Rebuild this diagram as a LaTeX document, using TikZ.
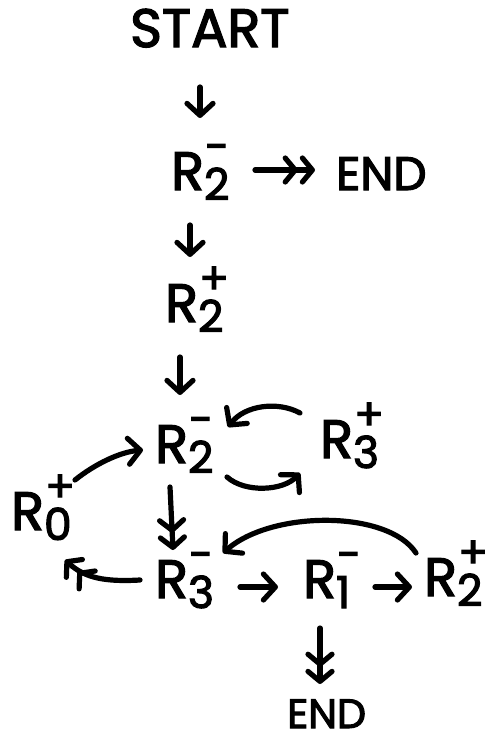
\documentclass[tikz,border=0pt]{standalone}
\usepackage{fontspec}
\setmainfont{Poppins}[FakeBold=2.6]
\usetikzlibrary{arrows.meta,calc}

% register symbol: R with subscript and superscript
\newcommand\subf{\fontsize{44}{46}\selectfont}
\newcommand\rsym[2]{R\rlap{\raisebox{-10pt}{\subf #1}}\kern1pt\raisebox{28pt}{\subf #2}}

\tikzset{
  lbl/.style={inner sep=0pt, anchor=base west, font=\fontsize{54}{56}\selectfont},
  arr/.style={line width=5.2pt, line cap=round,
    -{Straight Barb[length=12pt,width=26pt,round]}},
  darr/.style={line width=5.2pt, line cap=round,
    -{Straight Barb[length=10pt,width=24pt,round,sep=2pt]Straight Barb[length=10pt,width=24pt,round]}},
}

\begin{document}
\begin{tikzpicture}[x=1pt,y=-1pt]
\path[use as bounding box, fill=white] (0,0) rectangle (489,742);

% labels
\node[lbl] (start) at (130,47) {START};
\node[lbl, font=\fontsize{47}{49}\selectfont] (end1) at (336,190) {END};
\node[lbl] (r2a) at (171,190) {\rsym{2}{-}};
\node[lbl] (r2b) at (165,322) {\rsym{2}{+}};
\node[lbl] (r2c) at (155,463) {\rsym{2}{-}};
\node[lbl] (r3p) at (320,458) {\rsym{3}{+}};
\node[lbl] (r0) at (11,530) {\rsym{0}{+}};
\node[lbl] (r3m) at (155,598) {\rsym{3}{-}};
\node[lbl] (r1) at (303,598) {\rsym{1}{-}};
\node[lbl] (r2d) at (424,596) {\rsym{2}{+}};
\node[lbl, font=\fontsize{41}{43}\selectfont] (end2) at (287,728) {END};

% connectors
\draw[arr] ($(start.base west)+(70,40)$) -- ($(r2a.base west)+(29,-72)$);
\draw[darr] ($(r2a.base west)+(84,-20)$) -- ($(end1.base west)+(-21,-20)$);
\draw[arr] ($(r2a.base west)+(19,35)$) -- ($(r2b.base west)+(25,-65)$);
\draw[arr] ($(r2b.base west)+(15,35)$) -- ($(r2c.base west)+(25,-68)$);

\draw[arr] ($(r3p.base west)+(-20,-45)$) .. controls (278,401) and (245,405) .. ($(r2c.base west)+(73,-36)$);
\draw[arr] ($(r2c.base west)+(72,14)$) .. controls (245,493) and (283,491) .. ($(r3p.base west)+(-20,15)$);
\draw[arr] ($(r0.base west)+(64,-50)$) .. controls (95,464) and (120,452) .. ($(r2c.base west)+(-12,-13)$);
\draw[darr] ($(r2c.base west)+(15,24)$) -- ($(r3m.base west)+(18,-48)$);
\draw[darr] ($(r3m.base west)+(-15,-18)$) .. controls (105,582) and (85,578) .. ($(r0.base west)+(54,30)$);

\draw[arr] ($(r3m.base west)+(85,-11)$) -- ($(r1.base west)+(-25,-11)$);
\draw[arr] ($(r1.base west)+(72,-11)$) -- ($(r2d.base west)+(-12,-9)$);
\draw[arr] ($(r2d.base west)+(-8,-43)$) .. controls (388,510) and (272,510) .. ($(r3m.base west)+(68,-45)$);
\draw[darr] ($(r1.base west)+(17,30)$) -- ($(end2.base west)+(33,-44)$);
\end{tikzpicture}
\end{document}
